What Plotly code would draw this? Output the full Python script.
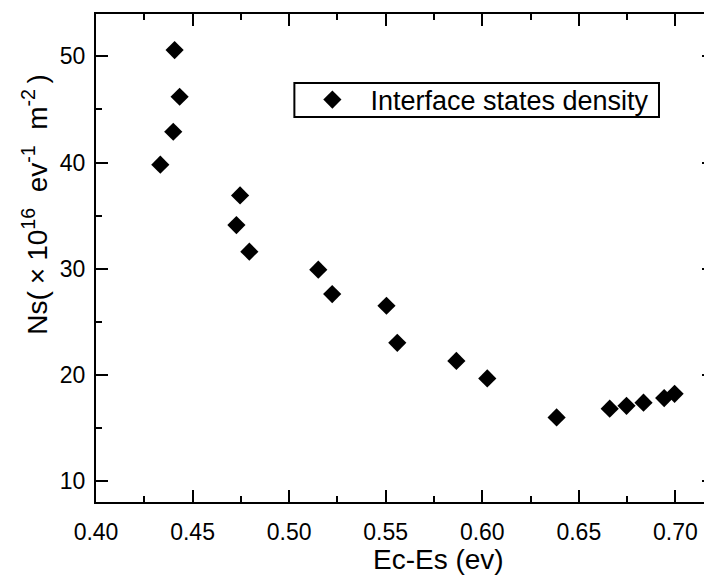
import plotly.graph_objects as go

# Data
ec_es = [0.4407, 0.4433, 0.4400, 0.4333, 0.4746, 0.4727, 0.4794, 0.5151, 0.5223,
         0.5504, 0.5560, 0.5866, 0.6026, 0.6385, 0.6660, 0.6747, 0.6835, 0.6942, 0.6996]
ns = [50.6, 46.2, 42.9, 39.8, 36.9, 34.1, 31.6, 29.9, 27.6,
      26.5, 23.0, 21.3, 19.65, 15.97, 16.8, 17.07, 17.36, 17.8, 18.2]
series_name = "Interface states density"
x_title = "Ec-Es (ev)"
y_title = ("Ns(\u2005×\u200510<sup>16</sup>\u00a0\u00a0ev<sup>-1</sup>"
           "\u00a0\u00a0m<sup>-2</sup>\u2009)")

FONT = "Liberation Sans, Arial, sans-serif"

fig = go.Figure()
fig.add_trace(go.Scatter(
    x=ec_es, y=ns, mode="markers", name=series_name,
    marker=dict(symbol="diamond", size=14, color="black"),
))

fig.update_layout(
    width=708, height=567,
    margin=dict(l=88, r=0, t=6, b=73),
    paper_bgcolor="white", plot_bgcolor="white",
    font=dict(family=FONT, color="black", size=23),
    showlegend=True,
    legend=dict(
        x=0.321, y=0.8238, xanchor="left", yanchor="middle",
        borderwidth=0, bgcolor="rgba(0,0,0,0)",
        font=dict(size=27, family=FONT, color="black"),
        itemwidth=66,
    ),
    shapes=[
        dict(type="rect", xref="paper", yref="paper",
             x0=0.321, x1=0.911, y0=0.789, y1=0.8586,
             line=dict(color="black", width=2), fillcolor="rgba(0,0,0,0)", layer="below"),
    ],
    xaxis=dict(
        range=[0.40, 0.72], dtick=0.05, tick0=0.40, tickformat=".2f",
        showline=True, linecolor="black", linewidth=2, mirror="ticks",
        ticks="inside", ticklen=12, tickwidth=2, tickcolor="black",
        showgrid=False, zeroline=False,
        minor=dict(ticks="inside", ticklen=6, tickwidth=2, tickcolor="black", dtick=0.025, showgrid=False),
        ticklabelstandoff=8,
    ),
    yaxis=dict(
        range=[8, 54], dtick=10,
        showline=True, linecolor="black", linewidth=2, mirror="ticks",
        ticks="inside", ticklen=12, tickwidth=2, tickcolor="black",
        showgrid=False, zeroline=False,
        minor=dict(ticks="inside", ticklen=6, tickwidth=2, tickcolor="black", dtick=5, showgrid=False),
        ticklabelstandoff=4,
    ),
    annotations=[
        dict(text=x_title, xref="paper", yref="paper", x=0.555, y=-0.118,
             xanchor="center", yanchor="middle", showarrow=False,
             font=dict(size=28, family=FONT, color="black")),
        dict(text=y_title, xref="paper", yref="paper", x=-0.098, y=0.61,
             xanchor="center", yanchor="middle", showarrow=False, textangle=-90,
             font=dict(size=28, family=FONT, color="black")),
    ],
)

fig.write_html("out.html")
